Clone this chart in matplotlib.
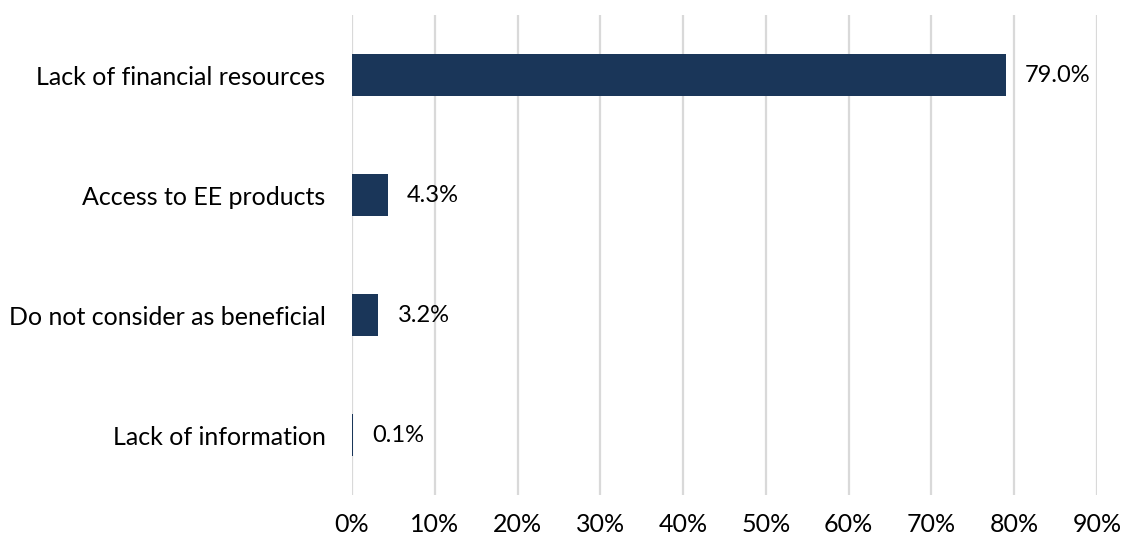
import numpy as np
import matplotlib.pyplot as plt
from matplotlib.ticker import PercentFormatter

# barriers to energy efficiency investment
categories = ['Lack of financial resources', 'Access to EE products',
              'Do not consider as beneficial', 'Lack of information']
shares = [79.0, 4.3, 3.2, 0.1]
xticks = [0, 10, 20, 30, 40, 50, 60, 70, 80, 90]

plt.rcParams['font.family'] = ['Lato', 'DejaVu Sans']

fig = plt.figure(figsize=(11.23, 5.4), dpi=100)
ax = fig.add_axes([0.3134, 0.0833, 0.6634, 0.8889])

y = np.arange(len(categories))
ax.barh(y, shares, height=0.35, color='#1a3659', zorder=3)

for yi, v in zip(y, shares):
    ax.text(v + 2.3, yi, f'{v:.1f}%', va='center', ha='left', fontsize=17, color='black')

ax.set_yticks(y)
ax.set_yticklabels(categories, fontsize=18)
ax.set_ylim(3.5, -0.5)
ax.set_xlim(0, 90)
ax.set_xticks(xticks)
ax.xaxis.set_major_formatter(PercentFormatter(decimals=0))
ax.tick_params(axis='x', labelsize=18, length=0, pad=13)
ax.tick_params(axis='y', length=0, pad=19)
ax.grid(axis='x', color='#d9d9d9', linewidth=1.6, zorder=0)
for s in ax.spines.values():
    s.set_visible(False)

plt.savefig('out.png', dpi=100)
